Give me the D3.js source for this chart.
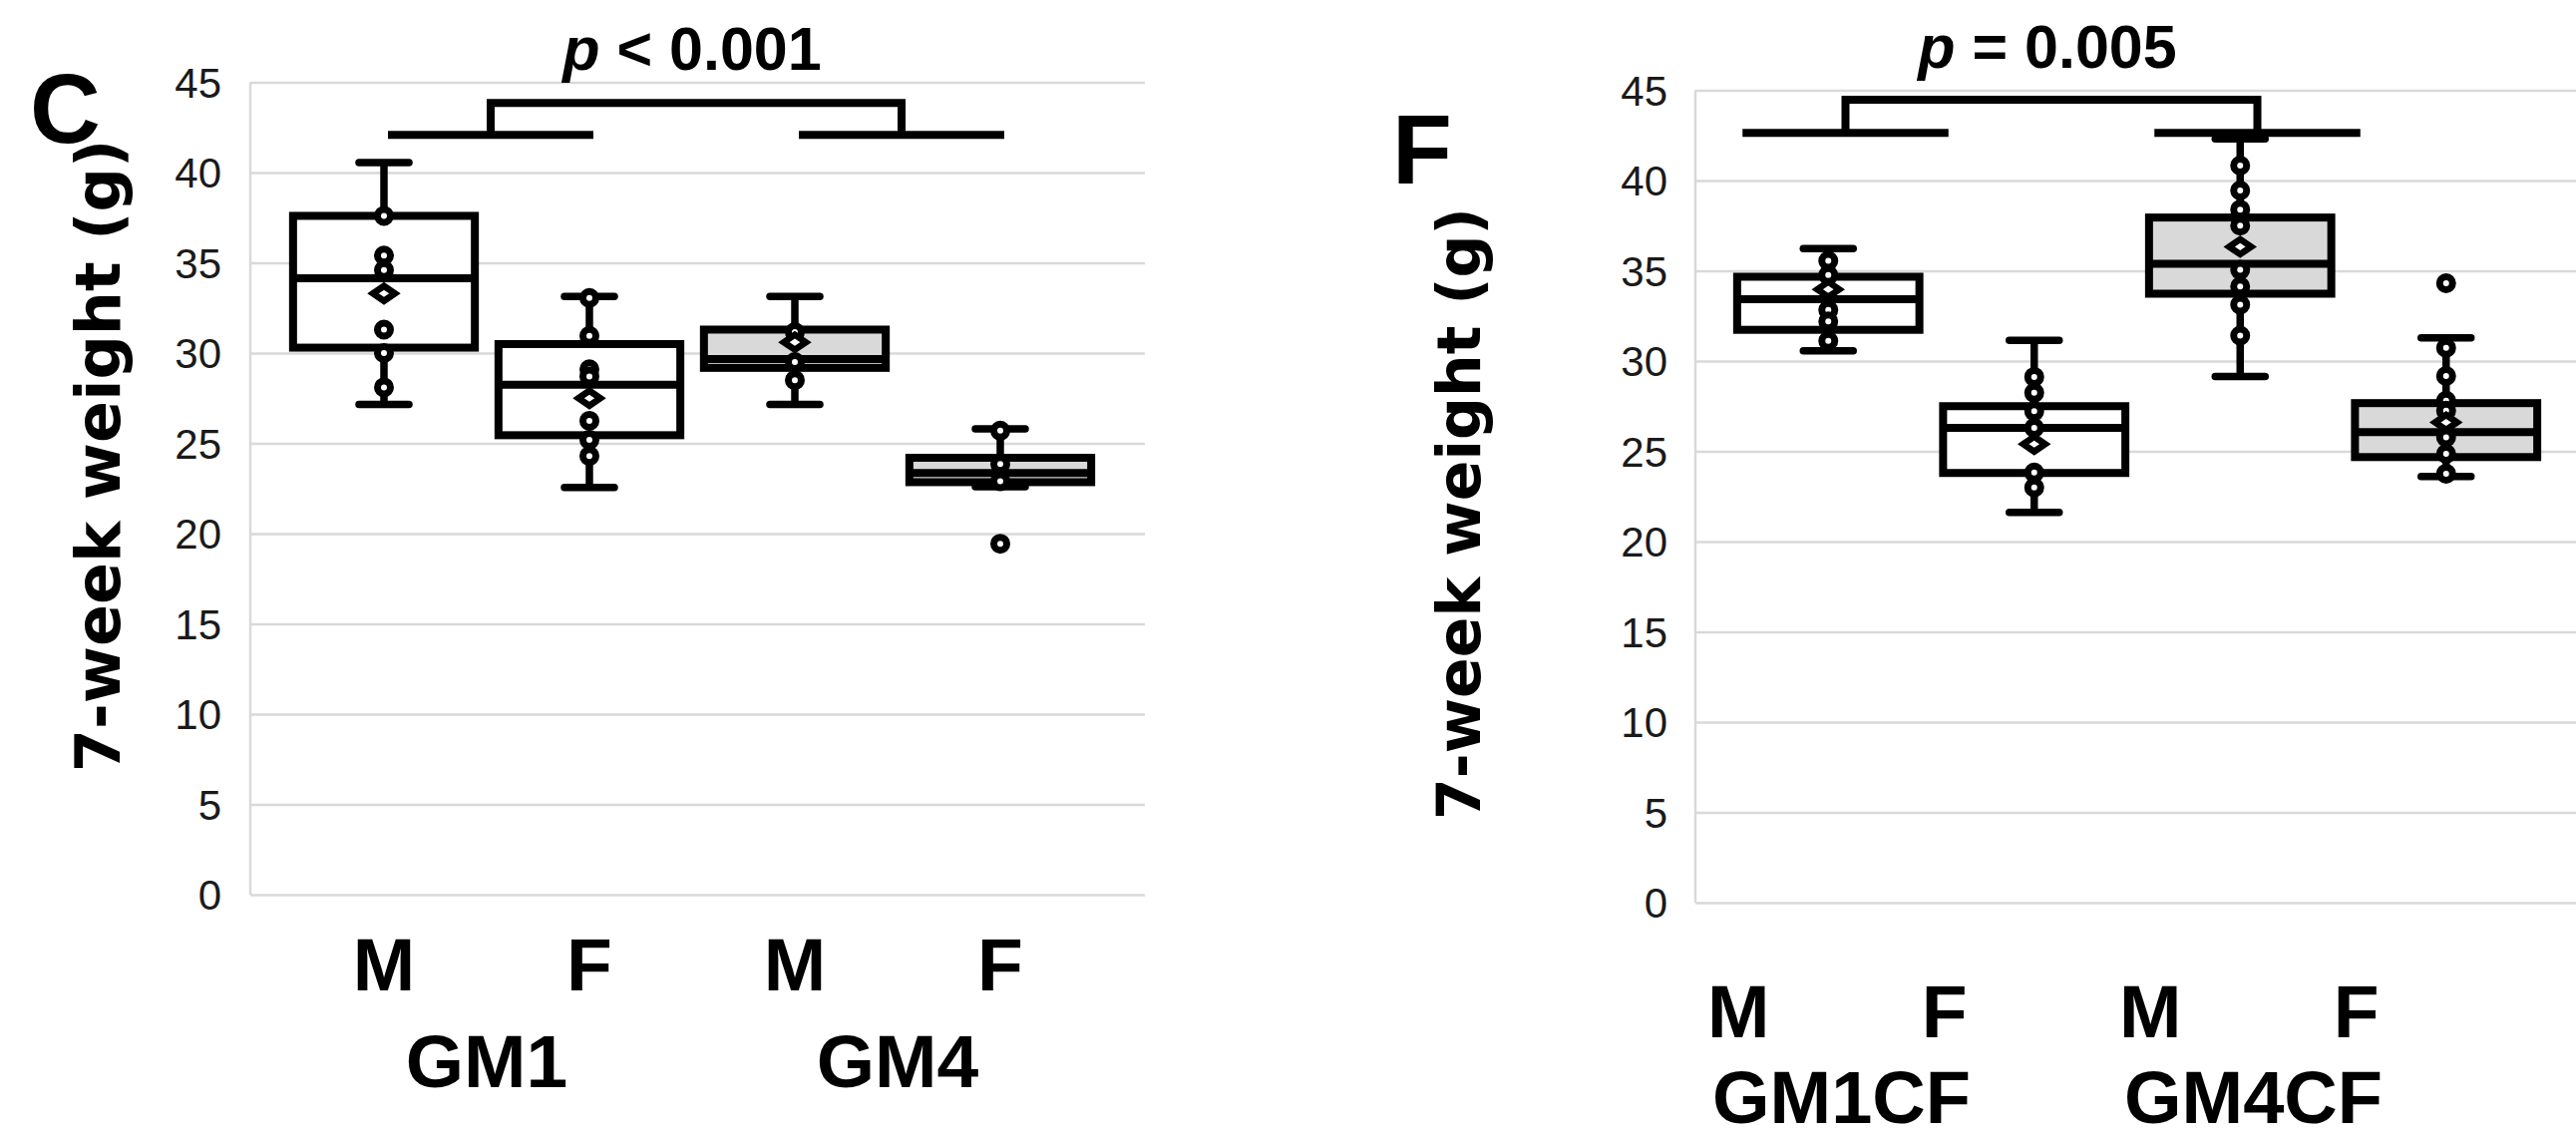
<!DOCTYPE html>
<html><head><meta charset="utf-8">
<script src="https://cdn.jsdelivr.net/npm/d3@7"></script>
<style>body{margin:0;background:#fff}</style>
</head><body><svg id="chart" width="2583" height="1142"></svg>
<script>
// ---------- data ----------
const yTicks = [0, 5, 10, 15, 20, 25, 30, 35, 40, 45];
const sexLabels = ["M", "F", "M", "F"];
const groupsC = ["GM1", "GM4"];
const groupsF = ["GM1CF", "GM4CF"];
const pTextC = "< 0.001";
const pTextF = "= 0.005";
const yTitle = "7-week weight (g)";

// Panel C
const lowC  = [27.15, 22.55, 27.16, 22.6];
const q1C   = [30.3, 25.45, 29.18, 22.85];
const medC  = [34.15, 28.25, 29.67, 23.36];
const q3C   = [37.6, 30.5, 31.3, 24.2];
const highC = [40.55, 33.14, 33.13, 25.8];
const meanC = [33.3, 27.5, 30.6, null];
const pointsC = [
  [37.6, 35.4, 34.6, 31.3, 30.0, 28.1],
  [33.05, 30.95, 29.1, 28.7, 26.25, 25.2, 24.3],
  [31.16, 29.5, 28.5],
  [25.7, 23.85, 22.9]
];
const outliersC = [[], [], [], [19.44]];
const bracketC = [42.08, 43.85];

// Panel F
const lowF  = [30.57, 21.62, 29.14, 23.6];
const q1F   = [31.73, 23.8, 33.73, 24.68];
const medF  = [33.42, 26.3, 35.38, 26.06];
const q3F   = [34.67, 27.5, 37.95, 27.67];
const highF = [36.23, 31.14, 42.3, 31.28];
const meanF = [33.97, 25.4, 36.33, 26.6];
const pointsF = [
  [35.55, 34.76, 32.83, 32.19, 31.12],
  [29.12, 28.24, 27.22, 26.3, 23.82, 23.0],
  [40.83, 39.45, 38.39, 37.5, 35.05, 34.13, 33.12, 31.41],
  [30.73, 29.17, 27.8, 27.25, 25.78, 24.86, 23.76]
];
const outliersF = [[], [], [], [34.31]];
const bracketF = [42.64, 44.47];

// ---------- drawing ----------
const svg = d3.select("#chart");
svg.append("rect").attr("width", 2583).attr("height", 1142).attr("fill", "#fff");

const SW = 7.5;
const tickFont = "'Liberation Sans', Arial, sans-serif";
const boldFont = "'Liberation Sans', Arial, sans-serif";
const titleFont = "'DejaVu Sans', sans-serif";

function drawPanel(cfg) {
  const g = svg.append("g");
  const y = d3.scaleLinear().domain([0, 45]).range(cfg.yRange);
  const xb = d3.scaleBand().domain(d3.range(4)).range(cfg.boxRange);
  const xl = d3.scaleBand().domain(d3.range(4)).range(cfg.labelRange);
  const cx = i => xb(i) + xb.bandwidth() / 2;
  const lx = i => xl(i) + xl.bandwidth() / 2;
  const boxW = xb.bandwidth() * 0.885;
  const capW = 50;

  // gridlines via axis
  const axis = d3.axisLeft(y).tickValues(yTicks).tickSize(-(cfg.plotRight - cfg.plotLeft)).tickPadding(0);
  const ag = g.append("g").attr("transform", `translate(${cfg.plotLeft},0)`).call(axis);
  ag.select(".domain").remove();
  ag.selectAll(".tick line").attr("stroke", "#d9d9d9").attr("stroke-width", 2.5);
  ag.selectAll(".tick text").remove();
  // y tick labels
  g.selectAll(".ytl").data(yTicks).join("text")
    .attr("x", cfg.tickX).attr("y", d => y(d)).attr("dy", "0.36em")
    .attr("text-anchor", "end").attr("font-family", tickFont).attr("font-size", 42)
    .attr("fill", "#1a1a1a").text(d => d);
  // left axis line
  g.append("line").attr("x1", cfg.plotLeft).attr("x2", cfg.plotLeft)
    .attr("y1", y(45)).attr("y2", y(0)).attr("stroke", "#d9d9d9").attr("stroke-width", 2.5);

  const idx = d3.range(4);
  const fillOf = i => (i < 2 ? "#ffffff" : "#d9d9d9");

  // whiskers
  g.selectAll(".wu").data(idx).join("line")
    .attr("x1", cx).attr("x2", cx).attr("y1", i => y(cfg.q3[i])).attr("y2", i => y(cfg.high[i]))
    .attr("stroke", "#000").attr("stroke-width", SW);
  g.selectAll(".wl").data(idx).join("line")
    .attr("x1", cx).attr("x2", cx).attr("y1", i => y(cfg.q1[i])).attr("y2", i => y(cfg.low[i]))
    .attr("stroke", "#000").attr("stroke-width", SW);
  // caps
  ["high", "low"].forEach(k => {
    g.selectAll(".cap" + k).data(idx).join("line")
      .attr("x1", i => cx(i) - capW / 2).attr("x2", i => cx(i) + capW / 2)
      .attr("y1", i => y(cfg[k][i])).attr("y2", i => y(cfg[k][i]))
      .attr("stroke", "#000").attr("stroke-width", SW).attr("stroke-linecap", "round");
  });
  // boxes
  g.selectAll(".box").data(idx).join("rect")
    .attr("x", i => cx(i) - boxW / 2).attr("width", boxW)
    .attr("y", i => y(cfg.q3[i])).attr("height", i => y(cfg.q1[i]) - y(cfg.q3[i]))
    .attr("fill", fillOf).attr("stroke", "#000").attr("stroke-width", SW + 0.5);
  // medians
  g.selectAll(".med").data(idx).join("line")
    .attr("x1", i => cx(i) - boxW / 2).attr("x2", i => cx(i) + boxW / 2)
    .attr("y1", i => y(cfg.med[i])).attr("y2", i => y(cfg.med[i]))
    .attr("stroke", "#000").attr("stroke-width", SW + 0.5);
  // inner points & outliers
  const pts = [];
  idx.forEach(i => {
    cfg.points[i].forEach(v => pts.push({ i, v }));
    cfg.outliers[i].forEach(v => pts.push({ i, v }));
  });
  g.selectAll(".pt").data(pts).join("circle")
    .attr("cx", d => cx(d.i)).attr("cy", d => y(d.v)).attr("r", 6.5)
    .attr("fill", "#fff").attr("stroke", "#000").attr("stroke-width", 7);
  // mean markers (diamond)
  const means = idx.filter(i => cfg.mean[i] != null);
  g.selectAll(".mean").data(means).join("path")
    .attr("d", i => {
      const X = cx(i), Y = y(cfg.mean[i]);
      return `M${X - 11},${Y} L${X},${Y - 7.5} L${X + 11},${Y} L${X},${Y + 7.5} Z`;
    })
    .attr("fill", "#fff").attr("stroke", "#000").attr("stroke-width", 6.5).attr("stroke-linejoin", "miter");

  // bracket
  const m1 = (lx(0) + lx(1)) / 2, m2 = (lx(2) + lx(3)) / 2;
  const bl = y(cfg.bracket[0]), bu = y(cfg.bracket[1]);
  [[lx(0), lx(1)], [lx(2), lx(3)]].forEach(([a, b]) => {
    g.append("line").attr("x1", a + 4).attr("x2", b + 4).attr("y1", bl).attr("y2", bl)
      .attr("stroke", "#000").attr("stroke-width", SW + 0.5);
  });
  g.append("path").attr("d", `M${m1 + 4},${bl} L${m1 + 4},${bu} L${m2 + 4},${bu} L${m2 + 4},${bl}`)
    .attr("fill", "none").attr("stroke", "#000").attr("stroke-width", SW + 0.5).attr("stroke-linejoin", "miter");

  // p-value text
  const pt = g.append("text").attr("x", (m1 + m2) / 2).attr("y", cfg.pY)
    .attr("text-anchor", "middle").attr("font-family", boldFont).attr("font-weight", "bold")
    .attr("font-size", 61).attr("fill", "#000");
  pt.append("tspan").attr("font-style", "italic").text("p");
  pt.append("tspan").text(" " + cfg.pText);

  // x labels
  g.selectAll(".xl").data(idx).join("text")
    .attr("x", lx).attr("y", cfg.sexY).attr("text-anchor", "middle")
    .attr("font-family", boldFont).attr("font-weight", "bold").attr("font-size", 75)
    .attr("fill", "#000").text(i => sexLabels[i]);
  g.selectAll(".gl").data(cfg.groups).join("text")
    .attr("x", (d, j) => (lx(2 * j) + lx(2 * j + 1)) / 2).attr("y", cfg.groupY)
    .attr("text-anchor", "middle").attr("font-family", boldFont).attr("font-weight", "bold")
    .attr("font-size", cfg.groupSize).attr("fill", "#000").text(d => d);

  // y title
  g.append("text").attr("transform", `translate(${cfg.titleX},${cfg.titleY}) rotate(-90)`)
    .attr("text-anchor", "middle").attr("font-family", titleFont).attr("font-weight", "bold")
    .attr("font-size", cfg.titleSize).attr("fill", "#000").text(yTitle);

  // panel letter
  g.append("text").attr("x", cfg.letterX).attr("y", cfg.letterY)
    .attr("font-family", boldFont).attr("font-weight", "bold").attr("font-size", 98)
    .attr("fill", "#000").text(cfg.letter);
}

drawPanel({
  yRange: [897, 82.5], boxRange: [282, 1106], labelRange: [282, 1106],
  plotLeft: 251, plotRight: 1148, tickX: 222,
  low: lowC, q1: q1C, med: medC, q3: q3C, high: highC, mean: meanC,
  points: pointsC, outliers: outliersC, bracket: bracketC,
  pText: pTextC, pY: 70, sexY: 993, groupY: 1090, groupSize: 75, groups: groupsC,
  titleX: 120, titleY: 457, titleSize: 62, letter: "C", letterX: 30, letterY: 143
});
drawPanel({
  yRange: [905, 90.5], boxRange: [1730, 2556], labelRange: [1640, 2466],
  plotLeft: 1700, plotRight: 2583, tickX: 1672,
  low: lowF, q1: q1F, med: medF, q3: q3F, high: highF, mean: meanF,
  points: pointsF, outliers: outliersF, bracket: bracketF,
  pText: pTextF, pY: 68, sexY: 1040, groupY: 1126, groupSize: 74, groups: groupsF,
  titleX: 1484, titleY: 515, titleSize: 60, letter: "F", letterX: 1396, letterY: 184
});
</script></body></html>
